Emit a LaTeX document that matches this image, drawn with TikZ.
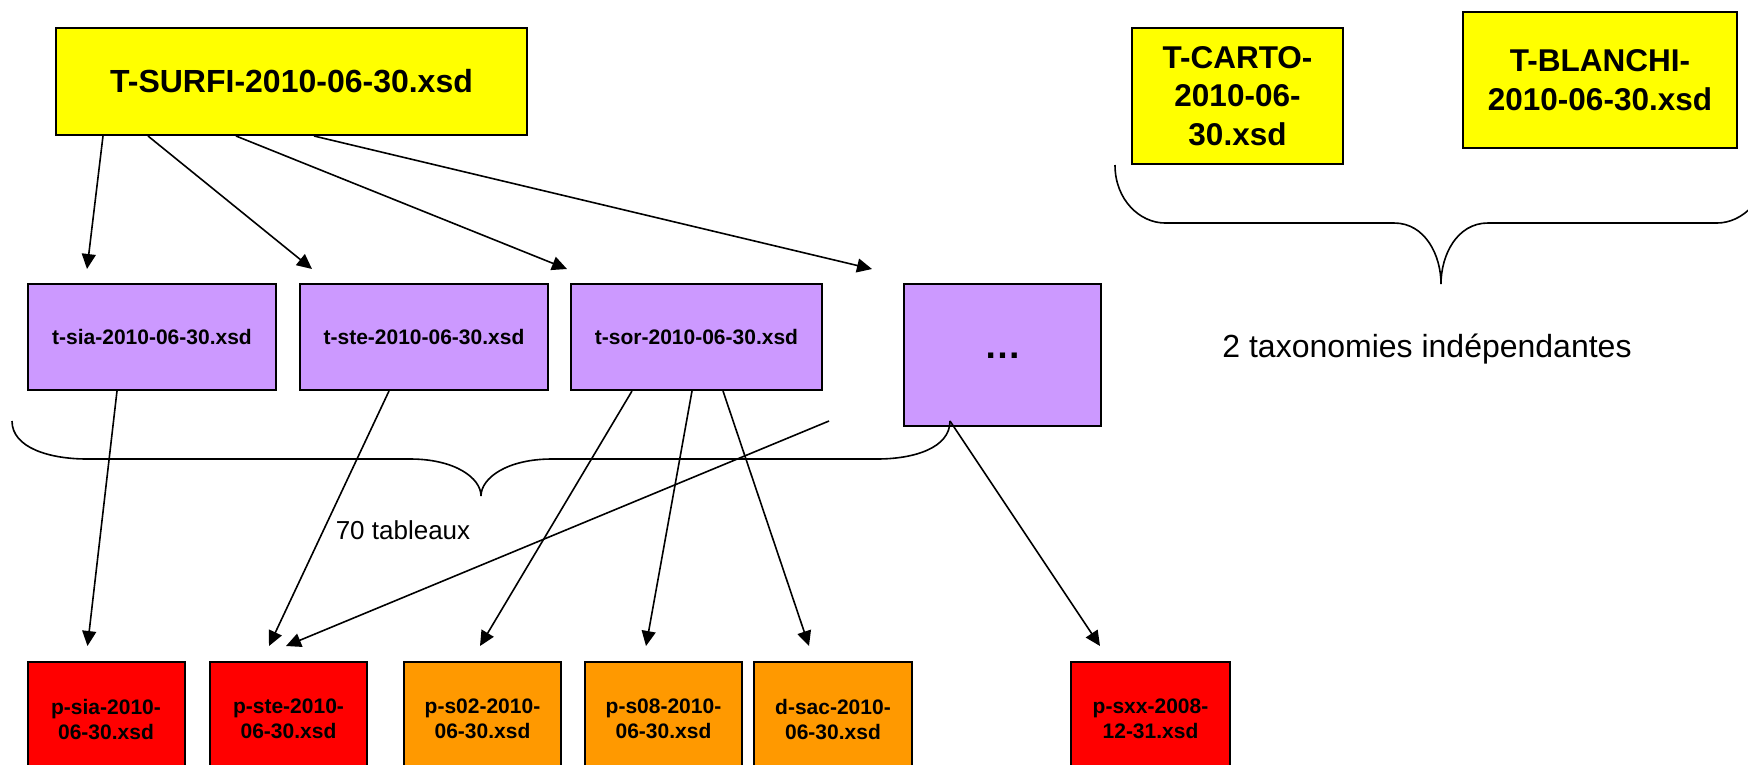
\documentclass[tikz,border=0pt]{standalone}
\usepackage{fontspec}
\setmainfont{Liberation Sans}
\usetikzlibrary{arrows.meta}
\definecolor{yel}{HTML}{FFFF00}
\definecolor{purp}{HTML}{CC99FF}
\definecolor{redb}{HTML}{FF0000}
\definecolor{orb}{HTML}{FF9900}
\newcommand{\fsz}[2]{\fontsize{#1pt}{#2pt}\selectfont}
\begin{document}
\begin{tikzpicture}[x=1pt,y=-1pt,
  box/.style={draw=black, line width=2pt, inner sep=0pt, align=center},
  topbox/.style={box, fill=yel, font=\bfseries\fsz{31.5}{38.5}},
  tbox/.style={box, fill=purp, minimum height=106pt, font=\bfseries\fsz{21}{25}},
  pbox/.style={box, minimum width=157pt, minimum height=114pt, font=\bfseries\fsz{21}{25}},
  arr/.style={line width=1.6pt, -{Triangle[length=15pt,width=14pt]}},
  bracestyle/.style={line width=1.6pt},
  lbl/.style={inner sep=0pt}
]
\useasboundingbox (0,0) rectangle (1748,764);
\clip (0,0) rectangle (1748,764);

% top level
\node[topbox, minimum width=471pt, minimum height=107pt, font=\bfseries\fsz{32}{38}] (surfi) at (291.5,81.5) {T-SURFI-2010-06-30.xsd};
\node[topbox, minimum width=211pt, minimum height=136pt] (carto) at (1237.5,96) {T-CARTO-\\2010-06-\\30.xsd};
\node[topbox, minimum width=274pt, minimum height=136pt] (blanchi) at (1600,80) {T-BLANCHI-\\2010-06-30.xsd};

% tables
\node[tbox, minimum width=248pt] (sia) at (152,337) {t-sia-2010-06-30.xsd};
\node[tbox, minimum width=248pt] (ste) at (424,337) {t-ste-2010-06-30.xsd};
\node[tbox, minimum width=251pt] (sor) at (696.5,337) {t-sor-2010-06-30.xsd};
\node[tbox, minimum width=197pt, minimum height=142pt, font=\bfseries\fsz{37}{40}] (dots) at (1002.5,355) {\raisebox{-7pt}{…}};

% files
\node[pbox, fill=redb] (psia) at (106,719) {p-sia-2010-\\06-30.xsd};
\node[pbox, fill=redb] (pste) at (288.5,719) {p-ste-2010-\\06-30.xsd};
\node[pbox, fill=orb] (ps02) at (482.5,719) {p-s02-2010-\\06-30.xsd};
\node[pbox, fill=orb] (ps08) at (663.5,719) {p-s08-2010-\\06-30.xsd};
\node[pbox, fill=orb, minimum width=158pt] (dsac) at (833,719) {d-sac-2010-\\06-30.xsd};
\node[pbox, fill=redb, minimum width=159pt] (psxx) at (1150.5,719) {p-sxx-2008-\\12-31.xsd};

% braces
\coordinate (b1start) at (12,421);
\coordinate (b1end) at (950,421);
\draw[bracestyle] (b1start) .. controls (12,448) and (50,459) .. (87,459) -- (410,459)
  .. controls (455,459) and (481,478) .. (481,496)
  .. controls (481,478) and (507,459) .. (552,459) -- (877,459)
  .. controls (914,459) and (950,448) .. (b1end);
\draw[bracestyle] (1115,165) .. controls (1115,200) and (1140,223) .. (1165,223) -- (1394,223)
  .. controls (1425,223) and (1441,255) .. (1441,284)
  .. controls (1441,255) and (1457,223) .. (1488,223) -- (1717,223)
  .. controls (1742,223) and (1767,200) .. (1767,165);

\node[lbl, font=\fsz{26}{30}] (tab) at (403,530) {70 tableaux};
\node[lbl, font=\fsz{32}{38}] (taxo) at (1427,349) {2 taxonomies indépendantes};

% arrows from T-SURFI
\draw[arr] ([xshift=48pt]surfi.south west) -- ([xshift=60pt,yshift=14pt]sia.north west);
\draw[arr] ([xshift=93pt]surfi.south west) -- ([xshift=13pt,yshift=14pt]ste.north west);
\draw[arr] ([xshift=181pt]surfi.south west) -- ([xshift=-3pt,yshift=14pt]sor.north west);
\draw[arr] ([xshift=259pt]surfi.south west) -- ([xshift=-31pt,yshift=14pt]dots.north west);

% arrows to files
\draw[arr] ([xshift=90pt]sia.south west) -- ([xshift=61pt,yshift=15pt]psia.north west);
\draw[arr] ([xshift=90pt]ste.south west) -- ([xshift=60pt,yshift=15pt]pste.north west);
\draw[arr] ([xshift=62pt]sor.south west) -- ([xshift=77pt,yshift=15pt]ps02.north west);
\draw[arr] ([xshift=122pt]sor.south west) -- ([xshift=62pt,yshift=15pt]ps08.north west);
\draw[arr] ([xshift=153pt]sor.south west) -- ([xshift=56pt,yshift=15pt]dsac.north west);
\coordinate (free) at (829,421);
\draw[arr] (free) -- ([xshift=77pt,yshift=15pt]pste.north west);
\draw[arr] (b1end) -- ([xshift=30pt,yshift=15pt]psxx.north west);
\end{tikzpicture}
\end{document}
